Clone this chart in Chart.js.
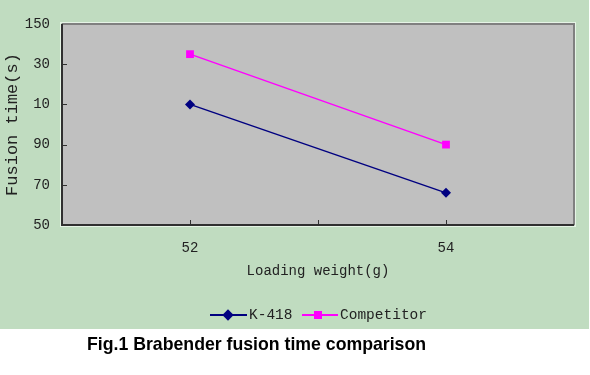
<!DOCTYPE html>
<html>
<head>
<meta charset="utf-8">
<script src="https://cdn.jsdelivr.net/npm/chart.js@4/dist/chart.umd.min.js"></script>
<style>
  html, body { margin: 0; padding: 0; background: #ffffff; width: 590px; height: 375px; overflow: hidden; }
  #wrap { position: absolute; left: 0; top: 0; width: 589px; height: 329px; background: #c0dcc0; }
  #c { position: absolute; left: 0; top: 0; }
  .lg { position: absolute; top: 307px; height: 16px; line-height: 16px; font-family: "Liberation Mono", monospace; font-size: 14.5px; color: #222; }
  .ln { position: absolute; height: 2px; }
  .mk { position: absolute; }
  #title { position: absolute; left: 87px; top: 333px; font-family: "Liberation Sans", Arial, sans-serif; font-weight: bold; font-size: 17.7px; color: #000; line-height: 22px; white-space: nowrap; }
</style>
</head>
<body>
<div id="wrap">
  <canvas id="c" width="589" height="329"></canvas>
  <div class="ln" style="left:210px; top:314px; width:37px; background:#000080;"></div>
  <div class="mk" style="left:224px; top:311px; width:8px; height:8px; background:#000080; transform:rotate(45deg);"></div>
  <div class="lg" style="left:249px;">K-418</div>
  <div class="ln" style="left:302px; top:314px; width:36px; background:#ff00ff;"></div>
  <div class="mk" style="left:314px; top:311px; width:8px; height:8px; background:#ff00ff;"></div>
  <div class="lg" style="left:340px;">Competitor</div>
</div>
<div id="title">Fig.1 Brabender fusion time comparison</div>
<script>
// ---- data ----
const loadingWeights = [52, 54];
const k418 = [110, 66];
const competitor = [135, 90];
const yTickValues = [50, 70, 90, 110, 130, 150];
const yTickLabels = ["50", "70", "90", "10", "30", "150"];
const xTickLabels = ["52", "54"];
const xTitle = "Loading weight(g)";
const yTitle = "Fusion time(s)";

const monoFont = "'Liberation Mono', monospace";

const framePlugin = {
  id: 'frame',
  beforeDraw(chart) {
    const {ctx, chartArea: a} = chart;
    ctx.save();
    ctx.fillStyle = '#c0c0c0';
    ctx.fillRect(a.left, a.top, a.right - a.left, a.bottom - a.top);
    // light outer outline
    ctx.strokeStyle = '#e6f4e6';
    ctx.lineWidth = 1;
    ctx.strokeRect(a.left - 1.5, a.top - 1.5, a.right - a.left + 3, a.bottom - a.top + 3);
    // top and right borders
    ctx.strokeStyle = '#808080';
    ctx.lineWidth = 2;
    ctx.beginPath();
    ctx.moveTo(a.left, a.top);
    ctx.lineTo(a.right, a.top);
    ctx.lineTo(a.right, a.bottom);
    ctx.stroke();
    // left and bottom axis lines
    ctx.strokeStyle = '#303030';
    ctx.beginPath();
    ctx.moveTo(a.left, a.top);
    ctx.lineTo(a.left, a.bottom);
    ctx.lineTo(a.right, a.bottom);
    ctx.stroke();
    // inward tick marks
    ctx.lineWidth = 1;
    const ys = chart.scales.y, xs = chart.scales.x;
    ctx.beginPath();
    yTickValues.forEach(v => {
      const py = Math.round(ys.getPixelForValue(v)) + 0.5;
      if (py > a.top + 2 && py < a.bottom - 2) {
        ctx.moveTo(a.left, py);
        ctx.lineTo(a.left + 5, py);
      }
    });
    xs.ticks.forEach(t => {
      const px = Math.round(xs.getPixelForValue(t.value)) + 0.5;
      if (px > a.left + 2 && px < a.right - 2) {
        ctx.moveTo(px, a.bottom);
        ctx.lineTo(px, a.bottom - 5);
      }
    });
    ctx.stroke();
    ctx.restore();
  }
};

new Chart(document.getElementById('c'), {
  type: 'line',
  data: {
    datasets: [
      {
        label: 'K-418',
        data: loadingWeights.map((x, i) => ({x: x, y: k418[i]})),
        borderColor: '#000080',
        backgroundColor: '#000080',
        borderWidth: 1.5,
        pointStyle: 'rectRot',
        pointRadius: 5,
        pointBorderWidth: 0,
        tension: 0
      },
      {
        label: 'Competitor',
        data: loadingWeights.map((x, i) => ({x: x, y: competitor[i]})),
        borderColor: '#ff00ff',
        backgroundColor: '#ff00ff',
        borderWidth: 1.5,
        pointStyle: 'rect',
        pointRadius: 5.5,
        pointBorderWidth: 0,
        tension: 0
      }
    ]
  },
  options: {
    responsive: false,
    animation: false,
    devicePixelRatio: 1,
    layout: { padding: { top: 24, right: 11, left: 0, bottom: 0 } },
    plugins: { legend: { display: false }, tooltip: { enabled: false } },
    scales: {
      x: {
        type: 'linear',
        min: 51, max: 55,
        afterFit(s) { s.height = 104; },
        grid: { display: false, drawTicks: false },
        border: { display: false },
        ticks: {
          stepSize: 1,
          padding: 15,
          color: '#222',
          font: { family: monoFont, size: 14 },
          autoSkip: false,
          maxRotation: 0,
          callback: (v) => xTickLabels.includes(String(v)) ? String(v) : ''
        },
        title: {
          display: true,
          text: xTitle,
          color: '#222',
          font: { family: monoFont, size: 14 },
          padding: { top: 4, bottom: 49 }
        }
      },
      y: {
        min: 50, max: 150,
        afterFit(s) { s.width = 62; },
        grid: { display: false, drawTicks: false },
        border: { display: false },
        afterBuildTicks(s) { s.ticks = yTickValues.map(v => ({value: v})); },
        ticks: {
          padding: 12,
          color: '#222',
          font: { family: monoFont, size: 14 },
          callback: (v) => yTickLabels[yTickValues.indexOf(v)]
        },
        title: {
          display: true,
          text: yTitle,
          color: '#222',
          font: { family: monoFont, size: 17 },
          padding: { top: 2, bottom: 0 }
        }
      }
    }
  },
  plugins: [framePlugin]
});
</script>
</body>
</html>
